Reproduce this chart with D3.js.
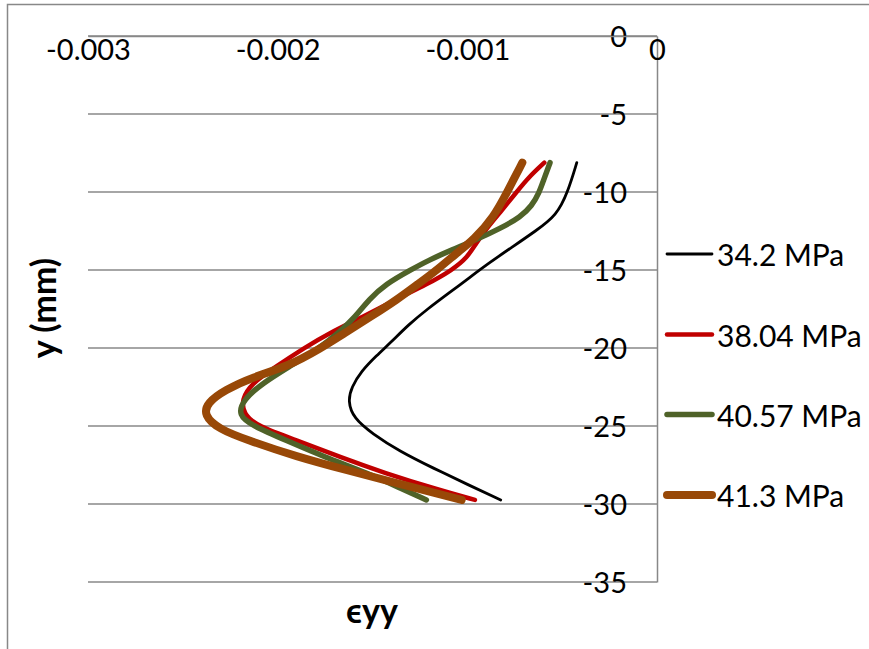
<!DOCTYPE html>
<html>
<head>
<meta charset="utf-8">
<script src="https://cdn.jsdelivr.net/npm/d3@7"></script>
<style>
  html, body { margin: 0; padding: 0; background: #fff; }
  svg { display: block; }
  text { font-family: Lato, "Open Sans", sans-serif; fill: #000; }
</style>
</head>
<body>
<svg id="chart" width="869" height="649"></svg>
<script>
// ---- data (strain εyy, y in mm) ----
const seriesNames = ["34.2 MPa", "38.04 MPa", "40.57 MPa", "41.3 MPa"];
const s342 = [[-0.000423,-8.12],[-0.000470,-10.0],[-0.000529,-11.5],[-0.000640,-12.5],[-0.000760,-13.5],[-0.000880,-14.5],[-0.000990,-15.5],[-0.00110,-16.5],[-0.00121,-17.5],[-0.00131,-18.5],[-0.00140,-19.6],[-0.00148,-20.5],[-0.00156,-21.5],[-0.00161,-22.5],[-0.00163,-23.4],[-0.00160,-24.5],[-0.00150,-25.5],[-0.00136,-26.6],[-0.00118,-27.7],[-0.00099,-28.8],[-0.000824,-29.74]];
const s3804 = [[-0.000594,-8.12],[-0.000680,-9.1],[-0.000740,-10.0],[-0.000820,-11.2],[-0.000890,-12.2],[-0.000955,-13.3],[-0.001000,-14.2],[-0.00108,-15.0],[-0.00121,-15.9],[-0.00138,-16.9],[-0.00155,-18.0],[-0.00173,-19.06],[-0.00186,-20.0],[-0.00201,-21.2],[-0.00214,-22.3],[-0.00219,-23.3],[-0.00218,-24.2],[-0.00211,-25.0],[-0.00188,-26.0],[-0.00167,-27.0],[-0.00144,-28.0],[-0.00115,-29.1],[-0.00096,-29.74]];
const s4057 = [[-0.000564,-8.12],[-0.00060,-9.3],[-0.00062,-10.0],[-0.00066,-10.9],[-0.00072,-11.6],[-0.00082,-12.3],[-0.00096,-13.1],[-0.00108,-13.7],[-0.00120,-14.35],[-0.00130,-15.0],[-0.00143,-15.9],[-0.00152,-16.9],[-0.00159,-18.0],[-0.00168,-19.05],[-0.00178,-20.0],[-0.00194,-21.2],[-0.00208,-22.26],[-0.00218,-23.3],[-0.00221,-24.3],[-0.00213,-25.0],[-0.00196,-25.9],[-0.00175,-27.0],[-0.00153,-28.0],[-0.00135,-29.0],[-0.001216,-29.74]];
const s413 = [[-0.00071,-8.12],[-0.00079,-10.0],[-0.00086,-11.6],[-0.00097,-13.1],[-0.00104,-13.75],[-0.00116,-15.0],[-0.00126,-15.9],[-0.00137,-16.9],[-0.00151,-18.0],[-0.00165,-19.06],[-0.00177,-20.0],[-0.00195,-21.2],[-0.00213,-21.85],[-0.00228,-22.7],[-0.00237,-23.5],[-0.00239,-24.3],[-0.00231,-25.2],[-0.00216,-25.9],[-0.00190,-26.97],[-0.00164,-27.82],[-0.00137,-28.67],[-0.00103,-29.74]];
const xTicks = [-0.003, -0.002, -0.001, 0];
const xTickLabels = ["-0.003", "-0.002", "-0.001", "0"];
const yTicks = [0, -5, -10, -15, -20, -25, -30, -35];
const yTickLabels = ["0", "-5", "-10", "-15", "-20", "-25", "-30", "-35"];
const xTitle = "ϵyy";
const yTitle = "y (mm)";

const allSeries = [s342, s3804, s4057, s413];
const colors = ["#000000", "#C00000", "#4F6228", "#984807"];
const widths = [2.8, 4.5, 5.5, 8];

// ---- layout ----
const svg = d3.select("#chart");
const gridColor = "#888888";
const x = d3.scaleLinear().domain([-0.003, 0]).range([88, 657]);
const y = d3.scaleLinear().domain([-35, 0]).range([582, 36]);
const FS = 29;
const FT = 34;

// chart border
svg.append("path")
  .attr("d", "M7.5,660 V4.5 H880")
  .attr("fill", "none").attr("stroke", gridColor).attr("stroke-width", 1.5);

// gridlines
svg.append("g").selectAll("line").data(yTicks).join("line")
  .attr("x1", x(-0.003)).attr("x2", x(0))
  .attr("y1", d => y(d)).attr("y2", d => y(d))
  .attr("stroke", gridColor).attr("stroke-width", 1.5);

// vertical axis at x = 0
const yAxis = d3.axisLeft(y).tickValues(yTicks)
  .tickFormat((d, i) => yTickLabels[i]).tickSize(0).tickPadding(30);
const gy = svg.append("g").attr("transform", `translate(${x(0)},0)`).call(yAxis);
gy.select(".domain").attr("stroke", gridColor).attr("stroke-width", 1.5);
gy.selectAll("text").attr("font-size", FS).attr("font-family", "Lato, 'Open Sans', sans-serif")
  .attr("dy", "0.36em");

// horizontal axis at y = 0 (labels below line)
const xAxis = d3.axisBottom(x).tickValues(xTicks)
  .tickFormat((d, i) => xTickLabels[i]).tickSize(0).tickPadding(3);
const gx = svg.append("g").attr("transform", `translate(0,${y(0)})`).call(xAxis);
gx.select(".domain").attr("stroke", gridColor).attr("stroke-width", 1.5);
gx.selectAll("text").attr("font-size", FS).attr("font-family", "Lato, 'Open Sans', sans-serif");

// series
const line = d3.line().x(d => x(d[0])).y(d => y(d[1])).curve(d3.curveBasis);
svg.append("g").selectAll("path").data(allSeries).join("path")
  .attr("d", d => line(d))
  .attr("fill", "none")
  .attr("stroke", (d, i) => colors[i])
  .attr("stroke-width", (d, i) => widths[i])
  .attr("stroke-linecap", "round").attr("stroke-linejoin", "round");

// axis titles
svg.append("text").attr("transform", "translate(42,308) rotate(-90)")
  .attr("text-anchor", "middle").attr("dominant-baseline", "central")
  .attr("font-weight", "bold").attr("font-size", FT).text(yTitle);
svg.append("text").attr("x", 372).attr("y", 609)
  .attr("text-anchor", "middle").attr("dominant-baseline", "central")
  .attr("font-weight", "bold").attr("font-size", FT).text(xTitle);

// legend
const legendY = [254, 334.5, 414.5, 495];
const lg = svg.append("g").selectAll("g").data(seriesNames).join("g")
  .attr("transform", (d, i) => `translate(0,${legendY[i]})`);
lg.append("line").attr("x1", 667).attr("x2", 712).attr("y1", 0).attr("y2", 0)
  .attr("stroke", (d, i) => colors[i]).attr("stroke-width", (d, i) => widths[i])
  .attr("stroke-linecap", "round");
lg.append("text").attr("x", 717).attr("y", 0).attr("dominant-baseline", "central")
  .attr("font-size", 30).text(d => d);
</script>
</body>
</html>
